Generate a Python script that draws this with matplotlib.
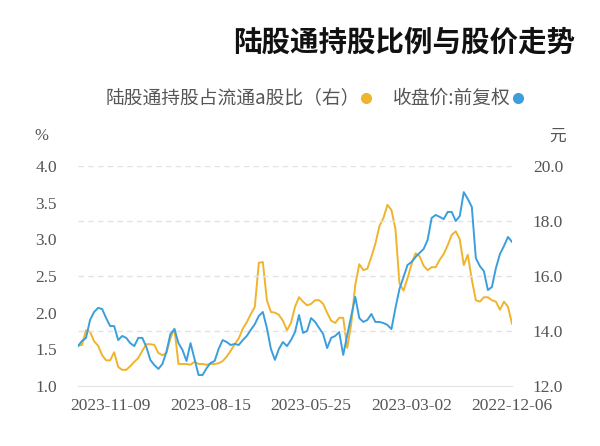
import matplotlib
matplotlib.use("Agg")
import matplotlib.pyplot as plt

plt.rcParams['font.family'] = ['Noto Sans CJK SC', 'DejaVu Sans']

# --- data (chronological, one value every ~2 trading days) ---
date_ticks = [0, 25, 50, 75, 100]
date_labels = ["2022-12-06", "2023-03-02", "2023-05-25", "2023-08-15", "2023-11-09"]

# 收盘价:前复权 (元)
close_price = [
    17.24, 17.42, 17.09, 16.80, 16.29, 15.60, 15.49, 16.18, 16.36, 16.65,
    18.51, 18.80, 19.05, 18.18, 18.00, 18.33, 18.33, 18.07, 18.15, 18.22,
    18.11, 17.31, 16.98, 16.84, 16.69, 16.51, 16.40, 15.96, 15.53, 14.84,
    14.07, 14.22, 14.29, 14.33, 14.33, 14.62, 14.40, 14.33, 14.47, 15.24,
    14.55, 13.85, 13.13, 13.96, 13.82, 13.75, 13.38, 13.89, 14.11, 14.33,
    14.47, 14.00, 13.93, 14.58, 13.96, 13.67, 13.45, 13.60, 13.35, 12.95,
    13.35, 14.11, 14.69, 14.55, 14.25, 14.04, 13.82, 13.67, 13.49, 13.53,
    13.49, 13.60, 13.67, 13.35, 12.91, 12.84, 12.65, 12.40, 12.40, 12.98,
    13.56, 12.91, 13.31, 13.56, 14.07, 13.89, 13.24, 12.80, 12.62, 12.76,
    12.95, 13.42, 13.75, 13.75, 13.45, 13.56, 13.75, 13.82, 13.67, 14.18,
    14.18, 14.47, 14.80, 14.84, 14.69, 14.40, 13.75, 13.64, 13.45,
]

# 陆股通持股占流通a股比 (%)
hk_share_pct = [
    1.85, 2.08, 2.15, 2.04, 2.15, 2.17, 2.21, 2.21, 2.15, 2.17,
    2.45, 2.79, 2.65, 3.00, 3.11, 3.06, 2.92, 2.80, 2.72, 2.62,
    2.62, 2.58, 2.64, 2.77, 2.81, 2.66, 2.47, 2.30, 2.40, 3.14,
    3.40, 3.47, 3.29, 3.18, 2.94, 2.76, 2.60, 2.58, 2.66, 2.38,
    1.85, 1.52, 1.93, 1.93, 1.86, 1.89, 2.00, 2.12, 2.17, 2.17,
    2.12, 2.10, 2.15, 2.21, 2.08, 1.86, 1.76, 1.89, 1.97, 2.00,
    2.01, 2.17, 2.69, 2.68, 2.08, 1.98, 1.87, 1.78, 1.65, 1.57,
    1.48, 1.40, 1.34, 1.31, 1.30, 1.30, 1.29, 1.30, 1.30, 1.33,
    1.29, 1.30, 1.30, 1.30, 1.78, 1.65, 1.45, 1.42, 1.45, 1.56,
    1.57, 1.57, 1.48, 1.38, 1.33, 1.27, 1.22, 1.22, 1.26, 1.46,
    1.35, 1.35, 1.42, 1.55, 1.61, 1.74, 1.76, 1.56, 1.55,
]

pct_ticks = [1.0, 1.5, 2.0, 2.5, 3.0, 3.5, 4.0]
price_ticks = [12.0, 14.0, 16.0, 18.0, 20.0]

BLUE = "#3a9fdc"
YELLOW = "#f0b42c"
GRID = "#e3e3e3"
TXT = "#555555"

fig = plt.figure(figsize=(6, 4.46), dpi=100)
ax = fig.add_axes([78 / 600, 1 - 386 / 446, 434 / 600, 220 / 446])
ax2 = ax.twinx()

days = list(range(len(close_price)))

# % axis on the left, price axis on the right, time runs right -> left
ax.plot(days, hk_share_pct, color=YELLOW, lw=1.4)
ax2.plot(days, close_price, color=BLUE, lw=1.4)

ax.set_xlim(len(days) - 1, 0)
ax.set_ylim(pct_ticks[0], pct_ticks[-1])
ax2.set_ylim(price_ticks[0], price_ticks[-1])

for v in price_ticks[1:]:
    ax2.axhline(v, color=GRID, lw=1, ls=(0, (4, 3)), zorder=0)

ax.set_yticks(pct_ticks)
ax.set_yticklabels([f"{v:.1f}" for v in pct_ticks])
ax2.set_yticks(price_ticks)
ax2.set_yticklabels([f"{v:.1f}" for v in price_ticks])
ax.set_xticks(date_ticks)
ax.set_xticklabels(date_labels)

tick_font = dict(family="Liberation Serif", size=12.5)
for a in (ax, ax2):
    for s in a.spines.values():
        s.set_visible(False)
    a.tick_params(length=0, colors=TXT)
    for lab in a.get_xticklabels() + a.get_yticklabels():
        lab.set_fontfamily(tick_font["family"])
        lab.set_fontsize(tick_font["size"])
ax.spines["bottom"].set_visible(True)
ax.spines["bottom"].set_color(GRID)
ax.tick_params(axis="y", pad=15)
ax2.tick_params(axis="y", pad=15)
ax.tick_params(axis="x", pad=9)

# unit labels
fig.text(41 / 600, 1 - 136 / 446, "%", ha="center", va="center",
         color=TXT, fontsize=12, family="Liberation Serif")
fig.text(557 / 600, 1 - 136 / 446, "元", ha="center", va="center",
         color=TXT, fontsize=12)

# title
fig.text(575 / 600, 1 - 43 / 446, "陆股通持股比例与股价走势", ha="right",
         va="center", fontsize=20.5, fontweight="bold", color="#111111")

# legend (dots to the right of the text, as in the picture)
ly = 1 - 98 / 446
fig.text(511 / 600, ly, "收盘价:前复权", ha="right", va="center",
         fontsize=13.5, color=TXT)
fig.text(360 / 600, ly, "陆股通持股占流通a股比（右）", ha="right", va="center",
         fontsize=13.5, color=TXT)
fig.add_artist(plt.Line2D([518 / 600], [ly], marker="o", ms=7,
                          color=BLUE, transform=fig.transFigure))
fig.add_artist(plt.Line2D([366 / 600], [ly], marker="o", ms=7,
                          color=YELLOW, transform=fig.transFigure))

fig.savefig("out.png", dpi=100, facecolor="white")
